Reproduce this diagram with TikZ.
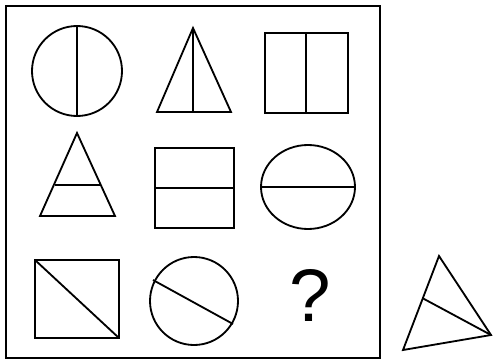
\documentclass[tikz,border=0pt]{standalone}
\usepackage{fontspec}
\newfontfamily\qfont{Liberation Sans}
\usepackage{tikz}
\usetikzlibrary{
  calc,%
  positioning
}
\tikzset{>=latex}
\tikzset{fig/.style={line width=2.6pt, line join=miter}}

\begin{document}
\begin{tikzpicture}[x=0.5mm, y=-0.5mm]
        \useasboundingbox (0,0) rectangle (493,360);
        \draw[line width=2.4pt] (6,6) rectangle (380,358);
        % row 1
        \draw[fig] (77,71) circle (45);
        \draw[fig] (77,26) -- (77,116);
        \coordinate (t1) at (193,28);
        \draw[fig] (t1) -- (157,112) -- (231,112) -- cycle;
        \draw[fig] (t1) -- (193,112);
        \draw[fig] (265,33) rectangle (348,113);
        \draw[fig] (306,33) -- (306,113);
        % row 2
        \coordinate (t2) at (77,133);
        \draw[fig] (t2) -- (40,216) -- (115,216) -- cycle;
        \draw[fig] (55,185) -- (100,185);
        \draw[fig] (155,148) rectangle (234,228);
        \draw[fig] (155,188) -- (234,188);
        \draw[fig] (308,187) ellipse (47 and 42);
        \draw[fig] (261,187) -- (355,187);
        % row 3
        \draw[fig] (35,260) rectangle (119,338);
        \draw[fig] (35,260) -- (119,338);
        \draw[fig] (194,301) circle (44);
        \draw[fig] (153,280) -- (233,324);
        \node[font=\qfont\fontsize{106}{106}\selectfont, inner sep=0pt] (qm) at (310,295) {?};
        % answer figure
        \coordinate (a) at (439,256);
        \coordinate (b) at (403,350);
        \coordinate (c) at (491,335);
        \draw[fig] (a) -- (b) -- (c) -- cycle;
        \draw[fig] ($(a)!0.45!(b)$) -- (c);
      \end{tikzpicture}
\end{document}
